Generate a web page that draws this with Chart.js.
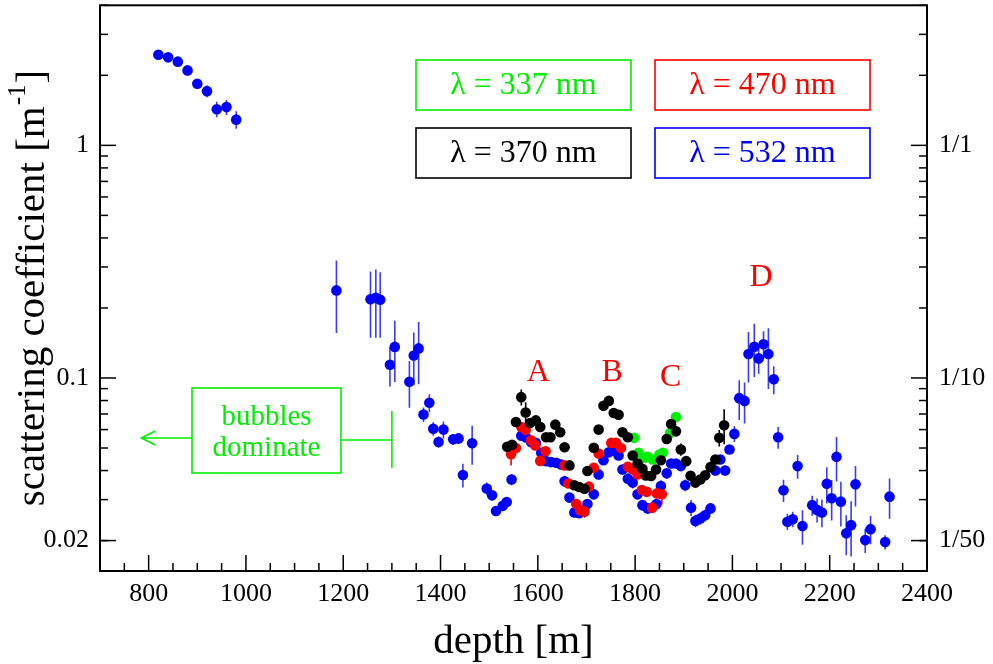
<!DOCTYPE html>
<html>
<head>
<meta charset="utf-8">
<script src="https://cdn.jsdelivr.net/npm/chart.js@4.4.1/dist/chart.umd.min.js"></script>
<style>
  html, body { margin: 0; padding: 0; background: #fff; }
</style>
</head>
<body>
<canvas id="chart" width="993" height="664"></canvas>
<script>
const SERIF = '"Liberation Serif", "Times New Roman", serif';

// depth [m], scattering coefficient [1/m] and its error, per wavelength
const blueDepth = [820, 840, 860, 880, 900, 920, 940, 960, 980,
  1186, 1256, 1267, 1276, 1296, 1306, 1336, 1345, 1355, 1365, 1377, 1385, 1396, 1406, 1426, 1437, 1446, 1465,
  1495, 1506, 1514, 1528, 1536, 1546, 1566, 1576, 1586, 1596, 1607, 1617, 1627, 1638, 1648, 1655, 1665, 1675, 1685, 1702,
  1715, 1725, 1735, 1746, 1756, 1766, 1774, 1785, 1795, 1805, 1815, 1826, 1844, 1853, 1865, 1874, 1884, 1894, 1903,
  1915, 1924, 1934, 1944, 1955, 1965, 1975, 1985, 1994, 2004, 2014, 2025, 2033, 2045, 2054, 2064, 2074, 2085, 2094,
  2105, 2113, 2124, 2134, 2144, 2164, 2174, 2184, 2194, 2204, 2214, 2223, 2234, 2244, 2253, 2273, 2284, 2314, 2323];
const blueCoef = [2.45, 2.39, 2.29, 2.10, 1.84, 1.71, 1.43, 1.46, 1.29,
  0.238, 0.218, 0.221, 0.217, 0.114, 0.136, 0.0964, 0.125, 0.134, 0.0697, 0.0782, 0.0605, 0.0531, 0.060, 0.0545, 0.055, 0.0383, 0.0524,
  0.0335, 0.0313, 0.0268, 0.0282, 0.0293, 0.0366, 0.0565, 0.0555, 0.053, 0.0526, 0.0477, 0.0439, 0.0435, 0.0432, 0.0425, 0.036, 0.0306, 0.0264, 0.0262, 0.0287,
  0.0316, 0.0385, 0.0443, 0.0479, 0.0488, 0.0464, 0.0404, 0.0369, 0.0355, 0.0316, 0.0284, 0.0275, 0.0287, 0.0343, 0.0389, 0.0429, 0.0429, 0.0418, 0.0346,
  0.0277, 0.0243, 0.0249, 0.0257, 0.0275, 0.040, 0.0446, 0.040, 0.0493, 0.0575, 0.0819, 0.0797, 0.1267, 0.1361, 0.1214, 0.1397, 0.1267, 0.0987, 0.0556,
  0.0329, 0.0241, 0.0247, 0.0418, 0.0231, 0.0284, 0.0271, 0.0264, 0.0351, 0.0304, 0.0458, 0.0294, 0.0215, 0.0233, 0.0349, 0.0201, 0.0224, 0.0197, 0.0309];
const blueErr = [0.07, 0.07, 0.07, 0.08, 0.09, 0.10, 0.11, 0.11, 0.11,
  0.082, 0.069, 0.072, 0.068, 0.022, 0.040, 0.022, 0.032, 0.040, 0.005, 0.007, 0.004, 0.003, 0.005, 0.003, 0.003, 0.0045, 0.010,
  0.002, 0.0015, 0.001, 0.001, 0.001, 0.002, 0.002, 0.002, 0.002, 0.002, 0.002, 0.002, 0.002, 0.002, 0.002, 0.002, 0.0015, 0.0012, 0.0012, 0.0015,
  0.0015, 0.002, 0.002, 0.002, 0.002, 0.002, 0.002, 0.002, 0.002, 0.0015, 0.0015, 0.0015, 0.0015, 0.002, 0.002, 0.002, 0.002, 0.002, 0.002,
  0.0022, 0.0015, 0.0015, 0.0015, 0.0015, 0.002, 0.002, 0.002, 0.002, 0.0045, 0.016, 0.016, 0.031, 0.035, 0.017, 0.019, 0.037, 0.0136, 0.006,
  0.0036, 0.0019, 0.0019, 0.0049, 0.0039, 0.0028, 0.0032, 0.0036, 0.0062, 0.006, 0.0099, 0.0064, 0.0042, 0.0062, 0.0069, 0.0024, 0.0031, 0.0014, 0.0061];

const redDepth = [1545, 1555, 1566, 1575, 1586, 1595, 1605, 1616, 1655, 1663, 1679, 1687, 1696, 1705, 1715, 1725,
  1751, 1761, 1771, 1785, 1795, 1805, 1814, 1824, 1835, 1845, 1855];
const redCoef = [0.047, 0.050, 0.0616, 0.0598, 0.054, 0.0513, 0.044, 0.0484, 0.0421, 0.0352, 0.0287, 0.0271, 0.0266, 0.0341, 0.0411, 0.0473,
  0.0526, 0.0526, 0.050, 0.0415, 0.0404, 0.0385, 0.033, 0.0324, 0.0277, 0.0319, 0.0316];
const redErr = [0.005, 0.0015, 0.0015, 0.0015, 0.0015, 0.0015, 0.0015, 0.0015, 0.0015, 0.0015, 0.0015, 0.0015, 0.0015, 0.0015, 0.0015, 0.0015,
  0.0015, 0.0015, 0.0015, 0.0015, 0.0015, 0.0015, 0.0015, 0.0015, 0.0015, 0.0015, 0.003];

const blackDepth = [1537, 1547, 1555, 1566, 1575, 1584, 1596, 1605, 1617, 1626, 1636, 1646, 1655, 1665, 1675, 1685, 1696, 1702,
  1715, 1725, 1735, 1746, 1756, 1766, 1774, 1785, 1795, 1805, 1815, 1822, 1833, 1843, 1853, 1865, 1874, 1884, 1894, 1905,
  1914, 1924, 1934, 1944, 1955, 1965, 1973, 1983];
const blackCoef = [0.0506, 0.0516, 0.0647, 0.0827, 0.0711, 0.064, 0.0657, 0.0616, 0.0556, 0.0556, 0.063, 0.0584, 0.0504, 0.0421, 0.0346, 0.034, 0.0334, 0.0398,
  0.0501, 0.060, 0.076, 0.0797, 0.0707, 0.0695, 0.0584, 0.0556, 0.0464, 0.0429, 0.0407, 0.0381, 0.0379, 0.0404, 0.0443, 0.0547, 0.0634, 0.059, 0.0493, 0.0439,
  0.038, 0.0355, 0.0366, 0.0382, 0.0414, 0.0446, 0.0553, 0.0626];
const blackErr = [0.0015, 0.0015, 0.0015, 0.0066, 0.0075, 0.0015, 0.0015, 0.0015, 0.0015, 0.0015, 0.0015, 0.0015, 0.0015, 0.0015, 0.0015, 0.0015, 0.0015, 0.0015,
  0.0015, 0.0015, 0.0015, 0.0015, 0.0015, 0.0015, 0.0015, 0.0015, 0.0015, 0.0015, 0.0015, 0.0015, 0.0015, 0.0015, 0.0015, 0.0015, 0.0015, 0.003, 0.003, 0.0015,
  0.0015, 0.0015, 0.0015, 0.0015, 0.0015, 0.0015, 0.0045, 0.0107];

const greenDepth = [1798, 1807, 1819, 1826, 1836, 1850, 1857, 1872, 1884];
const greenCoef = [0.0553, 0.0477, 0.0454, 0.0458, 0.0446, 0.0469, 0.0477, 0.058, 0.068];
const greenErr = [0.002, 0.002, 0.002, 0.002, 0.002, 0.002, 0.002, 0.004, 0.003];

// axis ticks
const depthTicks = [800, 1000, 1200, 1400, 1600, 1800, 2000, 2200, 2400];
const coefTicks = [0.02, 0.1, 1];
const coefLabels = ['0.02', '0.1', '1'];
const lengthLabels = ['1/50', '1/10', '1/1'];

const pts = (d, v, e) => d.map((x, i) => ({ x: x, y: v[i], e: e[i] }));

function series(label, d, v, e, color, errColor) {
  return {
    label: label,
    data: pts(d, v, e),
    backgroundColor: color,
    borderWidth: 0,
    pointRadius: 5.3,
    pointHoverRadius: 5.3,
    errColor: errColor
  };
}

const errorBars = {
  id: 'errorBars',
  beforeDatasetsDraw(chart) {
    const { ctx, chartArea: a, scales: { x, y } } = chart;
    ctx.save();
    ctx.beginPath();
    ctx.rect(a.left, a.top, a.right - a.left, a.bottom - a.top);
    ctx.clip();
    ctx.lineWidth = 1.6;
    chart.data.datasets.forEach(ds => {
      ctx.strokeStyle = ds.errColor;
      ds.data.forEach(p => {
        const px = x.getPixelForValue(p.x);
        const lo = Math.max(p.y - p.e, 1e-4);
        ctx.beginPath();
        ctx.moveTo(px, y.getPixelForValue(p.y + p.e));
        ctx.lineTo(px, y.getPixelForValue(lo));
        ctx.stroke();
      });
    });
    ctx.restore();
  }
};

function textAt(ctx, s, x, y, size, color) {
  ctx.font = size + 'px ' + SERIF;
  ctx.fillStyle = color;
  ctx.textAlign = 'center';
  ctx.textBaseline = 'middle';
  ctx.fillText(s, x, y);
}

const decorations = {
  id: 'decorations',
  afterDraw(chart) {
    const { ctx, chartArea: a, scales: { x, y } } = chart;
    ctx.save();

    // inward tick marks
    ctx.strokeStyle = '#000';
    ctx.lineWidth = 1.5;
    const tick = (x1, y1, x2, y2) => { ctx.beginPath(); ctx.moveTo(x1, y1); ctx.lineTo(x2, y2); ctx.stroke(); };
    for (let d = 750; d <= 2350; d += 50) {
      const px = x.getPixelForValue(d);
      const len = depthTicks.includes(d) ? 16 : 8;
      tick(px, a.bottom, px, a.bottom - len);
    }
    const minors = [];
    [0.01, 0.1, 1].forEach(dec => { for (let k = 2; k <= 9; k++) minors.push(dec * k); });
    minors.forEach(v => {
      if (v < y.min || v > y.max) return;
      const py = y.getPixelForValue(v);
      tick(a.left, py, a.left + 8, py);
      tick(a.right, py, a.right - 8, py);
    });
    coefTicks.forEach(v => {
      const py = y.getPixelForValue(v);
      tick(a.left, py, a.left + 16, py);
      tick(a.right, py, a.right - 16, py);
    });

    // frame
    ctx.lineWidth = 2;
    ctx.strokeRect(a.left, a.top, a.right - a.left, a.bottom - a.top);

    // wavelength key
    const keys = [
      ['\u03bb = 337 nm', '#00ee00', 416, 60],
      ['\u03bb = 470 nm', '#ff0000', 655, 60],
      ['\u03bb = 370 nm', '#000000', 416, 128],
      ['\u03bb = 532 nm', '#0000ff', 655, 128]
    ];
    keys.forEach(([s, c, bx, by]) => {
      ctx.strokeStyle = c;
      ctx.lineWidth = 1.6;
      ctx.strokeRect(bx, by, 215, 50);
      textAt(ctx, s, bx + 107.5, by + 26, 32, c);
    });

    // bubble region marker
    const g = '#00ee00';
    ctx.strokeStyle = g;
    ctx.lineWidth = 1.6;
    ctx.strokeRect(192, 388, 149, 85);
    textAt(ctx, 'bubbles', 266.5, 417, 29, g);
    textAt(ctx, 'dominate', 266.5, 448, 29, g);
    const xb = x.getPixelForValue(1300);
    const xt = x.getPixelForValue(785);
    ctx.beginPath();
    ctx.moveTo(192, 438); ctx.lineTo(xt, 438);
    ctx.moveTo(xt + 14, 431); ctx.lineTo(xt, 438); ctx.lineTo(xt + 14, 445);
    ctx.moveTo(341, 440); ctx.lineTo(xb, 440);
    ctx.moveTo(xb, 411); ctx.lineTo(xb, 468);
    ctx.stroke();

    // labelled features
    [['A', 1601, 0.105], ['B', 1753, 0.105], ['C', 1873, 0.1], ['D', 2059, 0.27]].forEach(([s, d, v]) => {
      textAt(ctx, s, x.getPixelForValue(d), y.getPixelForValue(v), 32, '#ff0000');
    });

    // left axis title with superscript
    ctx.translate(33, 289);
    ctx.rotate(-Math.PI / 2);
    ctx.fillStyle = '#000';
    ctx.textAlign = 'left';
    ctx.textBaseline = 'middle';
    const main = 'scattering coefficient [m';
    ctx.font = '41px ' + SERIF;
    const w1 = ctx.measureText(main).width;
    const w3 = ctx.measureText(']').width;
    ctx.font = '25px ' + SERIF;
    const w2 = ctx.measureText('-1').width;
    const sx = -(w1 + w2 + w3) / 2;
    ctx.font = '41px ' + SERIF;
    ctx.fillText(main, sx, 0);
    ctx.font = '25px ' + SERIF;
    ctx.fillText('-1', sx + w1 + 1, -15);
    ctx.font = '41px ' + SERIF;
    ctx.fillText(']', sx + w1 + w2 + 2, 0);

    ctx.restore();
  }
};

const tickFont = { family: SERIF, size: 26 };

const noPad = s => { s.paddingTop = 0; s.paddingBottom = 0; s.paddingLeft = 0; s.paddingRight = 0; };

new Chart(document.getElementById('chart'), {
  type: 'scatter',
  data: {
    datasets: [
      series('370 nm', blackDepth, blackCoef, blackErr, '#000000', '#000000'),
      series('337 nm', greenDepth, greenCoef, greenErr, '#00ee00', '#00ee00'),
      series('470 nm', redDepth, redCoef, redErr, '#ff0000', '#ff0000'),
      series('532 nm', blueDepth, blueCoef, blueErr, '#0000ff', '#3a3aff')
    ]
  },
  options: {
    responsive: false,
    animation: false,
    devicePixelRatio: 1,
    layout: { padding: { top: 2, right: 0, bottom: 0, left: 0 } },
    plugins: { legend: { display: false }, tooltip: { enabled: false } },
    scales: {
      x: {
        type: 'linear',
        min: 700,
        max: 2400,
        grid: { display: false, drawTicks: false },
        border: { display: false },
        afterBuildTicks: s => { s.ticks = depthTicks.map(v => ({ value: v })); },
        afterFit: s => { s.height = 93; noPad(s); },
        ticks: { font: tickFont, color: '#000', padding: 8, maxRotation: 0, autoSkip: false, callback: v => String(v) },
        title: { display: true, text: 'depth [m]', color: '#000', font: { family: SERIF, size: 41 }, padding: { top: 0, bottom: -3 } }
      },
      y: {
        type: 'logarithmic',
        position: 'left',
        min: 0.0148,
        max: 4.0,
        grid: { display: false, drawTicks: false },
        border: { display: false },
        afterBuildTicks: s => { s.ticks = coefTicks.map(v => ({ value: v })); },
        afterFit: s => { s.width = 100; noPad(s); },
        ticks: { font: tickFont, color: '#000', padding: 11, autoSkip: false, callback: (v, i) => coefLabels[i] }
      },
      y2: {
        type: 'logarithmic',
        position: 'right',
        min: 0.0148,
        max: 4.0,
        grid: { display: false, drawTicks: false },
        border: { display: false },
        afterBuildTicks: s => { s.ticks = coefTicks.map(v => ({ value: v })); },
        afterFit: s => { s.width = 66; noPad(s); },
        ticks: { font: tickFont, color: '#000', padding: 12, autoSkip: false, callback: (v, i) => lengthLabels[i] }
      }
    }
  },
  plugins: [errorBars, decorations]
});
</script>
</body>
</html>
